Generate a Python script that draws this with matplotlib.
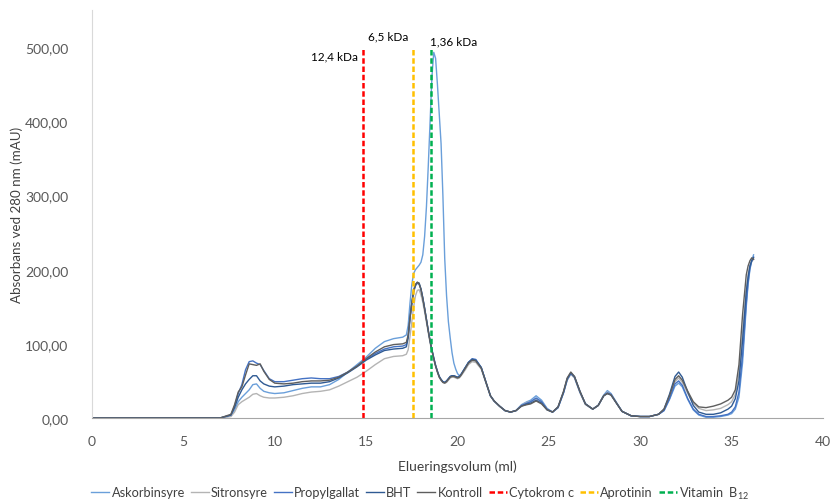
import numpy as np
import matplotlib
matplotlib.use("Agg")
import matplotlib.pyplot as plt

plt.rcParams['font.family'] = ['Lato', 'DejaVu Sans']
plt.rcParams['mathtext.default'] = 'regular'

# elution volume (ml)
volum = [0, 7.0, 7.6, 7.8, 8.0, 8.2, 8.4, 8.6, 8.8, 9.0, 9.2, 9.4, 9.7,
         10.0, 10.5, 11.0, 11.5, 12.0, 12.5, 13.0, 13.5, 14.0, 14.5, 15.0, 15.5, 16.0, 16.5, 17.0,
         17.2, 17.3, 17.4, 17.5, 17.6, 17.7, 17.8, 17.9, 18.0,
         18.1, 18.2, 18.3, 18.4, 18.5, 18.6, 18.7, 18.8, 18.9, 19.0,
         19.1, 19.2, 19.3, 19.4, 19.5, 19.6, 19.7, 19.8, 19.9, 20.0,
         20.1, 20.2, 20.4, 20.6, 20.8, 21.0, 21.3, 21.6, 21.8, 22.0,
         22.3, 22.6, 22.9, 23.2, 23.5, 23.8, 24.0, 24.3, 24.6, 24.9,
         25.2, 25.5, 25.8, 26.0, 26.2, 26.4, 26.7, 27.0, 27.4, 27.7,
         28.0, 28.2, 28.4, 28.7, 29.0, 29.5, 30.0, 30.5, 31.0, 31.3,
         31.6, 31.9, 32.1, 32.3, 32.6, 32.9, 33.2, 33.6, 34.0, 34.4,
         34.8, 35.0, 35.2, 35.4, 35.6, 35.8, 35.9, 36.0, 36.1, 36.2]

askorbinsyre = [0, 0, 3, 10, 22, 28, 33, 38, 45, 46, 40, 36, 34,
                33, 34, 37, 40, 42, 42, 45, 52, 62, 72, 82, 94, 103, 107, 109,
                112, 125, 155, 180, 195, 200, 203, 206, 210,
                220, 245, 285, 340, 400, 460, 493, 485, 450, 410,
                370, 300, 215, 165, 130, 108, 88, 74, 66, 60,
                57, 59, 67, 75, 79, 78, 68, 45, 30, 23,
                16, 10, 8, 10, 18, 22, 24, 30, 24, 13,
                8, 14, 34, 51, 60, 55, 35, 19, 12, 17,
                31, 37, 33, 21, 9, 3, 2, 2, 5, 10,
                25, 43, 47, 42, 25, 11, 4, 1, 1, 2,
                4, 6, 12, 28, 75, 150, 180, 200, 212, 220]
sitronsyre = [0, 0, 2, 8, 18, 22, 25, 28, 32, 33, 30, 28, 27,
              27, 28, 30, 33, 35, 36, 38, 43, 49, 55, 63, 72, 80, 83, 84,
              86, 92, 110, 130, 150, 165, 172, 173, 166,
              156, 143, 129, 115, 101, 90, 79, 70, 62, 55,
              51, 48, 47, 48, 51, 54, 55, 55, 54, 53,
              54, 57, 64, 72, 76, 75, 66, 44, 30, 23,
              16, 10, 8, 10, 17, 21, 22, 26, 22, 12,
              8, 14, 34, 51, 59, 54, 34, 18, 12, 17,
              30, 35, 32, 20, 9, 3, 2, 2, 5, 11,
              28, 49, 54, 48, 33, 20, 13, 10, 11, 13,
              18, 22, 32, 60, 115, 172, 193, 205, 211, 214]
propylgallat = [0, 0, 4, 16, 33, 45, 65, 76, 77, 74, 72, 64, 53,
                49, 49, 51, 53, 54, 53, 53, 56, 62, 70, 79, 87, 93, 96, 97,
                99, 110, 135, 155, 170, 178, 182, 180, 174,
                162, 148, 133, 118, 104, 92, 81, 71, 63, 56,
                52, 49, 48, 50, 53, 56, 57, 57, 56, 55,
                56, 59, 67, 75, 80, 79, 68, 45, 30, 23,
                16, 10, 8, 10, 17, 20, 22, 27, 22, 12,
                8, 14, 34, 52, 60, 55, 35, 19, 12, 17,
                30, 34, 32, 20, 9, 3, 2, 2, 5, 10,
                26, 46, 50, 44, 26, 12, 5, 2, 2, 3,
                5, 8, 15, 35, 85, 155, 183, 202, 212, 217]
bht = [0, 0, 4, 14, 28, 38, 46, 52, 57, 57, 50, 46, 43,
       42, 43, 45, 46, 47, 47, 49, 54, 61, 69, 78, 85, 91, 93, 94,
       96, 108, 135, 155, 172, 180, 183, 182, 174,
       162, 148, 133, 118, 104, 92, 81, 71, 63, 56,
       52, 49, 48, 50, 53, 56, 57, 57, 56, 55,
       56, 59, 67, 75, 79, 78, 68, 45, 30, 23,
       16, 10, 8, 10, 16, 19, 20, 24, 20, 11,
       8, 15, 35, 53, 61, 56, 36, 19, 12, 17,
       30, 33, 31, 20, 9, 3, 2, 2, 5, 12,
       32, 56, 62, 55, 35, 17, 8, 5, 5, 7,
       12, 16, 26, 50, 105, 170, 190, 205, 212, 216]
kontroll = [0, 0, 5, 18, 35, 42, 58, 73, 72, 71, 73, 63, 52,
            47, 46, 47, 49, 50, 50, 51, 55, 62, 70, 80, 89, 96, 99, 100,
            102, 112, 135, 155, 172, 180, 183, 181, 173,
            161, 147, 132, 117, 103, 91, 80, 70, 62, 55,
            51, 48, 47, 49, 52, 55, 56, 56, 55, 54,
            55, 58, 66, 74, 78, 77, 67, 45, 30, 23,
            16, 10, 8, 10, 16, 18, 19, 23, 19, 11,
            8, 15, 36, 54, 62, 56, 36, 19, 12, 17,
            30, 33, 31, 20, 9, 3, 2, 2, 5, 12,
            30, 52, 57, 51, 36, 22, 15, 14, 16, 19,
            24, 28, 38, 72, 140, 193, 205, 212, 216, 214]

serier = ['Askorbinsyre', 'Sitronsyre', 'Propylgallat', 'BHT', 'Kontroll']
farger = ['#6A9FDA', '#B4B4B4', '#4472C4', '#2F5A93', '#5E5E5E']

# molecular weight standards
standard_navn = ['Cytokrom c', 'Aprotinin', 'Vitamin  B$_{12}$']
standard_volum = [14.85, 17.55, 18.55]
standard_kda = ['12,4 kDa', '6,5 kDa', '1,36 kDa']
standard_hoyde = 500
standard_farger = ['#FF0000', '#FFC000', '#00B050']

fig = plt.figure(figsize=(8.32, 5.02), dpi=100)
ax = fig.add_axes([0.1106, 0.1653, 0.8786, 0.8127])

for navn, data, c in zip(serier, [askorbinsyre, sitronsyre, propylgallat, bht, kontroll], farger):
    ax.plot(volum, data, color=c, lw=1.0, label=navn)

for navn, v, c in zip(standard_navn, standard_volum, standard_farger):
    ax.plot([v, v], [0, standard_hoyde], color=c, lw=1.8, ls=(0, (2.2, 1.1)), label=navn)

# kDa labels
ax.text(standard_volum[0] - 0.3, 488, standard_kda[0], ha='right', va='center', fontsize=8.5)
ax.text(standard_volum[1] - 0.25, 515, standard_kda[1], ha='right', va='center', fontsize=8.5)
ax.text(standard_volum[2] - 0.05, 509, standard_kda[2], ha='left', va='center', fontsize=8.5)

ax.set_xlim(0, 40)
ax.set_ylim(0, 550)
ax.set_xticks(np.arange(0, 41, 5))
ax.set_yticks(np.arange(0, 501, 100))
ax.set_yticklabels([f"{v:.2f}".replace('.', ',') for v in np.arange(0, 501, 100)])
ax.tick_params(axis='both', length=0, labelsize=10, colors='#595959')
ax.tick_params(axis='y', pad=17)
ax.tick_params(axis='x', pad=12)

for s in ['top', 'right']:
    ax.spines[s].set_visible(False)
ax.spines['left'].set_color('#D9D9D9')
ax.spines['bottom'].set_color('#A6A6A6')

ax.set_xlabel('Elueringsvolum (ml)', fontsize=10, color='#404040', labelpad=9)
ax.set_ylabel('Absorbans ved 280 nm (mAU)', fontsize=9.6, color='#404040', labelpad=1.5)

fig.legend(loc='lower center', bbox_to_anchor=(0.505, -0.022), ncol=8, frameon=False,
           fontsize=9.2, handlelength=1.4, handletextpad=0.2, columnspacing=0.45,
           labelcolor='#404040')

fig.savefig('out.png', dpi=100)
